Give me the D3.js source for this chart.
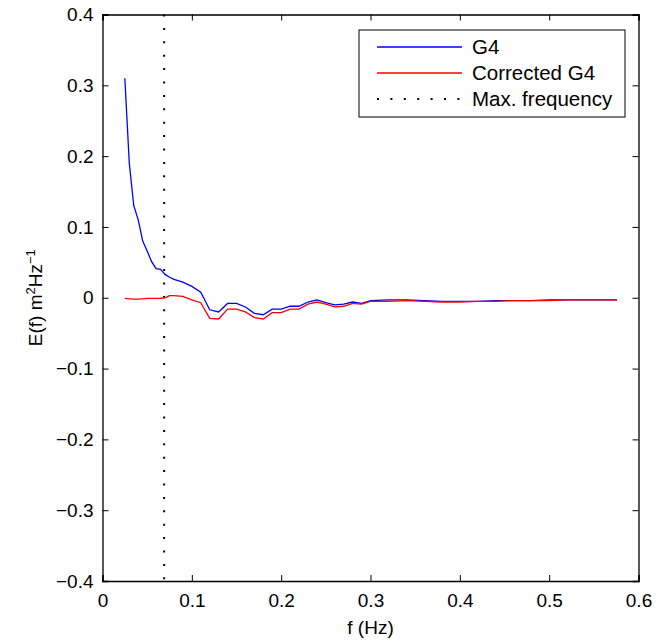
<!DOCTYPE html>
<html>
<head>
<meta charset="utf-8">
<script src="https://cdn.jsdelivr.net/npm/d3@7"></script>
<style>
  body { margin: 0; background: #fff; }
  text { font-family: "Liberation Sans", Arial, sans-serif; }
</style>
</head>
<body>
<script>
// spectrum data
var freq = [0.025, 0.03, 0.035, 0.04, 0.045, 0.05, 0.055, 0.06, 0.065, 0.07, 0.075, 0.08, 0.09, 0.1,
  0.11, 0.12, 0.13, 0.14, 0.15, 0.16, 0.17, 0.18, 0.19, 0.2, 0.21, 0.22, 0.23, 0.24, 0.25, 0.26,
  0.27, 0.28, 0.29, 0.3, 0.32, 0.34, 0.36, 0.38, 0.4, 0.42, 0.44, 0.46, 0.48, 0.5, 0.52, 0.54, 0.56, 0.576];

var g4 = [0.310, 0.190, 0.130, 0.110, 0.080, 0.066, 0.051, 0.041, 0.040, 0.033, 0.029, 0.026, 0.022, 0.016,
  0.008, -0.017, -0.020, -0.008, -0.008, -0.013, -0.022, -0.024, -0.016, -0.016, -0.012, -0.012, -0.006, -0.003, -0.007, -0.010,
  -0.009, -0.006, -0.008, -0.004, -0.003, -0.003, -0.004, -0.005, -0.005, -0.005, -0.004, -0.004, -0.004, -0.003, -0.003, -0.003, -0.003, -0.003];

var correctedG4 = [-0.001, -0.0015, -0.002, -0.002, -0.0015, -0.001, -0.001, -0.001, -0.001, 0.000, 0.003, 0.003, 0.002, -0.003,
  -0.007, -0.029, -0.030, -0.016, -0.016, -0.020, -0.028, -0.030, -0.021, -0.021, -0.016, -0.016, -0.009, -0.006, -0.009, -0.013,
  -0.012, -0.008, -0.009, -0.005, -0.005, -0.004, -0.005, -0.006, -0.006, -0.005, -0.005, -0.004, -0.004, -0.004, -0.003, -0.003, -0.003, -0.003];

var maxFreq = 0.069;

var xTicks = [0, 0.1, 0.2, 0.3, 0.4, 0.5, 0.6];
var yTicks = [-0.4, -0.3, -0.2, -0.1, 0, 0.1, 0.2, 0.3, 0.4];

var legendNames = ["G4", "Corrected G4", "Max. frequency"];

var svgWidth = 669;
var svgHeight = 641;
var margin = { top: 14.5, right: 30.5, bottom: 60, left: 102.5 };
var width = svgWidth - margin.left - margin.right;
var height = svgHeight - margin.top - margin.bottom;

var svg = d3.select("body")
  .append("svg")
  .attr("width", svgWidth)
  .attr("height", svgHeight);

var chart = svg.append("g")
  .attr("transform", "translate(" + margin.left + "," + margin.top + ")");

var x = d3.scaleLinear().domain([0, 0.6]).range([0, width]);
var y = d3.scaleLinear().domain([-0.4, 0.4]).range([height, 0]);

var fmt = function(d) { return d === 0 ? "0" : d3.format(".1f")(d).replace("-", "\u2212"); };

// axes on all four sides, ticks pointing inward
chart.append("g").attr("class", "axis")
  .attr("transform", "translate(0," + height + ")")
  .call(d3.axisBottom(x).tickValues(xTicks).tickSize(-6).tickPadding(13).tickFormat(fmt));
chart.append("g").attr("class", "axis")
  .call(d3.axisTop(x).tickValues(xTicks).tickSize(-6).tickFormat(""));
chart.append("g").attr("class", "axis")
  .call(d3.axisLeft(y).tickValues(yTicks).tickSize(-6).tickPadding(9).tickFormat(fmt));
chart.append("g").attr("class", "axis")
  .attr("transform", "translate(" + width + ",0)")
  .call(d3.axisRight(y).tickValues(yTicks).tickSize(-6).tickFormat(""));

chart.selectAll(".axis path").attr("stroke", "#000").attr("stroke-width", 1.3);
chart.selectAll(".axis line").attr("stroke", "#000").attr("stroke-width", 1);
chart.selectAll(".axis text").attr("font-size", "19px").attr("fill", "#000")
  .style("font-family", "'Liberation Sans', Arial, sans-serif");

// max frequency marker
chart.append("line")
  .attr("x1", x(maxFreq)).attr("x2", x(maxFreq))
  .attr("y1", 0).attr("y2", height)
  .attr("stroke", "#000")
  .attr("stroke-width", 2)
  .attr("stroke-dasharray", "2,11.4");

var line = d3.line()
  .x(function(d, i) { return x(freq[i]); })
  .y(function(d) { return y(d); });

chart.append("path")
  .datum(g4)
  .attr("fill", "none")
  .attr("stroke", "#0000ff")
  .attr("stroke-width", 1.3)
  .attr("d", line);

chart.append("path")
  .datum(correctedG4)
  .attr("fill", "none")
  .attr("stroke", "#ff0000")
  .attr("stroke-width", 1.3)
  .attr("d", line);

// legend
var legend = svg.append("g").attr("transform", "translate(359,30)");
legend.append("rect")
  .attr("width", 266).attr("height", 87)
  .attr("fill", "#fff").attr("stroke", "#000").attr("stroke-width", 1);

var legendStyles = [
  { color: "#0000ff", dash: null, width: 1.3 },
  { color: "#ff0000", dash: null, width: 1.3 },
  { color: "#000", dash: "2,11.4", width: 2 }
];

legendNames.forEach(function(name, i) {
  var rowY = 17 + i * 26;
  legend.append("line")
    .attr("x1", 18).attr("x2", 103)
    .attr("y1", rowY).attr("y2", rowY)
    .attr("stroke", legendStyles[i].color)
    .attr("stroke-width", legendStyles[i].width)
    .attr("stroke-dasharray", legendStyles[i].dash);
  legend.append("text")
    .attr("x", 113).attr("y", rowY)
    .attr("dy", "0.35em")
    .attr("font-size", "20.5px")
    .text(name);
});

// axis labels
svg.append("text")
  .attr("x", margin.left + width / 2)
  .attr("y", 634)
  .attr("text-anchor", "middle")
  .attr("font-size", "19px")
  .text("f (Hz)");

var yLabel = svg.append("text")
  .attr("transform", "translate(42," + (margin.top + height / 2) + ") rotate(-90)")
  .attr("text-anchor", "middle")
  .attr("font-size", "19px");
yLabel.append("tspan").text("E(f) m");
yLabel.append("tspan").attr("dy", -7).attr("font-size", "13px").text("2");
yLabel.append("tspan").attr("dy", 7).text("Hz");
yLabel.append("tspan").attr("dy", -7).attr("font-size", "13px").text("\u22121");
</script>
</body>
</html>
